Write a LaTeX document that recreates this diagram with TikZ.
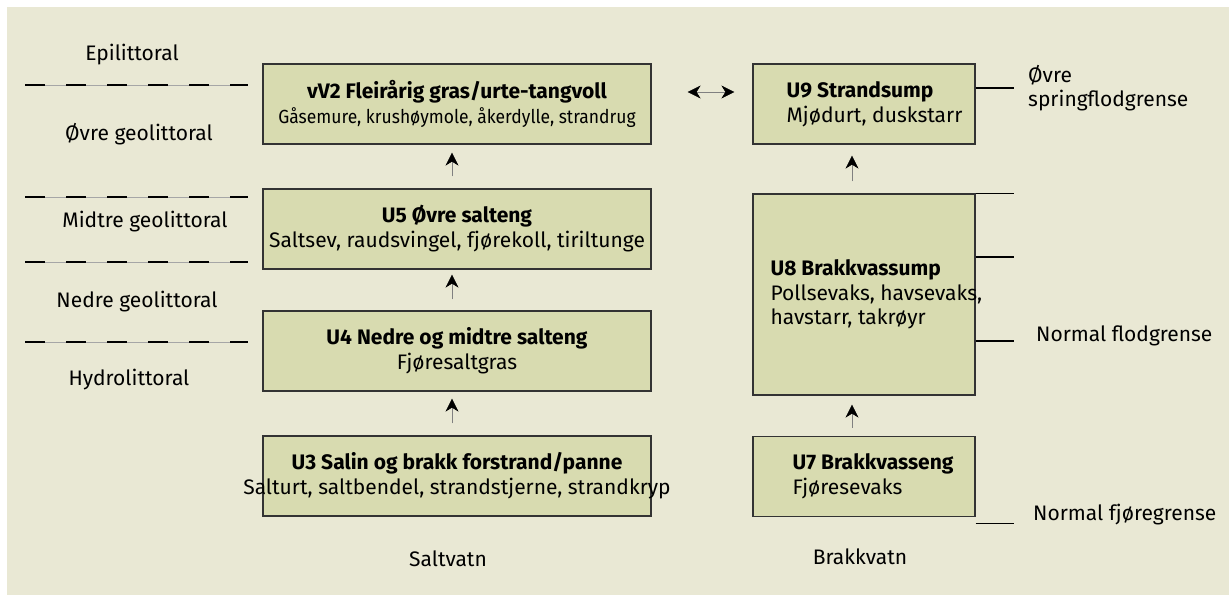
\documentclass[tikz,border=0pt]{standalone}
\usepackage{fontspec}
\setmainfont{Fira Sans}
\usetikzlibrary{arrows.meta}
\definecolor{bgcol}{RGB}{233,232,212}
\definecolor{boxcol}{RGB}{216,219,176}
\newcommand{\minortxt}[1]{\scalebox{0.92}[1]{\fontsize{19}{25}\selectfont #1}}
\tikzset{
  >={Stealth[length=13pt, width=13pt, inset=4pt, color=black]},
  zone/.style={draw=black!80, fill=boxcol, line width=1.2pt, minimum height=80pt, inner sep=0pt},
  widezone/.style={zone, minimum width=388pt, align=center},
  narrowzone/.style={zone, minimum width=222pt},
  plain/.style={inner sep=0pt, align=left, anchor=west},
  lvl/.style={inner sep=0pt, anchor=mid},
  guide/.style={gray!70, line width=.5pt},
  dashline/.style={black, line width=1.2pt, dash pattern=on 20pt off 21pt},
  tick/.style={black, line width=1.2pt},
  flow/.style={gray, line width=.6pt, ->},
  both/.style={gray, line width=.6pt, <->}
}
\begin{document}
\begin{tikzpicture}[x=1pt,y=-1pt,font=\fontsize{21}{25}\selectfont]
  \useasboundingbox (0,0) rectangle (1229,595);
  \fill[white] (0,0) rectangle (1229,595);
  \fill[bgcol] (7,7) rectangle (1229,595);

  \node[widezone] (vv2) at (457,104) {\textbf{vV2 Fleirårig gras/urte-tangvoll}\\\minortxt{Gåsemure, krushøymole, åkerdylle, strandrug}};
  \node[widezone] (u5) at (457,229) {\textbf{U5 Øvre salteng}\\Saltsev, raudsvingel, fjørekoll, tiriltunge};
  \node[widezone] (u4) at (457,351) {\textbf{U4 Nedre og midtre salteng}\\Fjøresaltgras};
  \node[widezone] (u3) at (457,476) {\textbf{U3 Salin og brakk forstrand/panne}\\\makebox[0pt]{Salturt, saltbendel, strandstjerne, strandkryp}};

  \node[narrowzone] (u9) at (864,104) {};
  \node[narrowzone, minimum height=201pt] (u8) at (864,294.5) {};
  \node[narrowzone] (u7) at (864,476.5) {};
  \node[plain] (u9t) at ([xshift=34pt]u9.west) {\textbf{U9 Strandsump}\\Mjødurt, duskstarr};
  \node[plain, font=\fontsize{21}{24.5}\selectfont] (u8t) at ([xshift=18pt]u8.west) {\textbf{U8 Brakkvassump}\\Pollsevaks, havsevaks,\\havstarr, takrøyr};
  \node[plain] (u7t) at ([xshift=40pt]u7.west) {\textbf{U7 Brakkvasseng}\\Fjøresevaks};

  \draw[flow, shorten <=12pt, shorten >=8pt] ([xshift=-5pt]u5.north) -- ([xshift=-5pt]vv2.south);
  \draw[flow, shorten <=11pt, shorten >=5pt] ([xshift=-5pt]u4.north) -- ([xshift=-5pt]u5.south);
  \draw[flow, shorten <=12pt, shorten >=7pt] ([xshift=-5pt]u3.north) -- ([xshift=-5pt]u4.south);
  \draw[flow, shorten <=12pt, shorten >=11pt] ([xshift=-12pt]u8.north) -- ([xshift=-12pt]u9.south);
  \draw[flow, shorten <=8pt, shorten >=9pt] ([xshift=-12pt]u7.north) -- ([xshift=-12pt]u8.south);
  \draw[both, shorten <=36pt, shorten >=18pt] ([yshift=12pt]vv2.east) -- ([yshift=12pt]u9.west);

  \foreach \y in {85,197,262,342}{
    \draw[guide] (25,\y) -- (248,\y);
    \draw[dashline] (25,\y) -- (248,\y);
  }
  \node[lvl] (epi) at (132,58) {Epilittoral};
  \node[lvl] (ogeo) at (139,138) {Øvre geolittoral};
  \node[lvl] (mgeo) at (145,225) {Midtre geolittoral};
  \node[lvl] (ngeo) at (137,305) {Nedre geolittoral};
  \node[lvl] (hydro) at (129,383) {Hydrolittoral};

  \draw[tick] ([yshift=16pt]u9.east) -- ++(38,0);
  \draw[tick] (u8.north east) -- ++(38,0);
  \draw[tick] ([yshift=37.5pt]u8.east) -- ++(38,0);
  \draw[tick] ([yshift=-46.5pt]u8.east) -- ++(38,0);
  \draw[tick] ([yshift=-6pt]u7.south east) -- ++(38,0);
  \node[plain, anchor=mid west] (spring) at (1028,80) {Øvre};
  \node[plain, anchor=mid west] (spring2) at (1028,104) {springflodgrense};
  \node[plain, anchor=mid west] (flod) at (1036,339) {Normal flodgrense};
  \node[plain, anchor=mid west] (fjore) at (1033,518) {Normal fjøregrense};

  \node[lvl] (salt) at (448,564) {Saltvatn};
  \node[lvl] (brakk) at (860,562) {Brakkvatn};
\end{tikzpicture}
\end{document}
